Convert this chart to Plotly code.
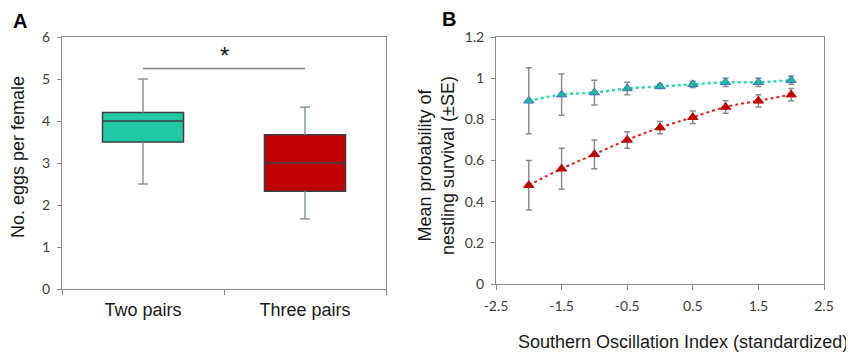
import plotly.graph_objects as go

# ---------------- Data ----------------
# Panel A: box plots of eggs per female
groups = ["Two pairs", "Three pairs"]
box_q1 = [3.5, 2.33]
box_median = [4.0, 3.0]
box_q3 = [4.2, 3.67]
box_lower = [2.5, 1.67]
box_upper = [5.0, 4.33]
box_colors = ["#20C9A2", "#C00000"]
sig_y = 5.25
sig_star_y = 5.57

# Panel B: survival vs SOI
soi = [-2.0, -1.5, -1.0, -0.5, 0.0, 0.5, 1.0, 1.5, 2.0]
surv_two = [0.89, 0.92, 0.93, 0.95, 0.96, 0.97, 0.98, 0.98, 0.99]
se_two = [0.16, 0.10, 0.06, 0.03, 0.01, 0.015, 0.02, 0.02, 0.02]
surv_three = [0.48, 0.56, 0.63, 0.70, 0.76, 0.81, 0.86, 0.89, 0.92]
se_three = [0.12, 0.10, 0.07, 0.04, 0.03, 0.03, 0.03, 0.03, 0.03]
xb_ticks = [-2.5, -1.5, -0.5, 0.5, 1.5, 2.5]
xb_ticktext = ["-2.5", "-1.5", "-0.5", "0.5", "1.5", "2.5"]
ya_ticks = [0, 1, 2, 3, 4, 5, 6]
yb_ticks = [0, 0.2, 0.4, 0.6, 0.8, 1.0, 1.2]
yb_ticktext = ["0", "0.2", "0.4", "0.6", "0.8", "1", "1.2"]

# page body has an 8px default margin; size the figure so it fills the window
OFF = 8
W, H = 854 - OFF, 354 - OFF
def px(x):
    return (x - OFF) / W
def py(y):
    return 1 - (y - OFF) / H

TICKFONT = dict(family="Lato, Liberation Sans, sans-serif", size=14, color="#404040")
TITLEFONT = dict(family="Liberation Sans, Arial, sans-serif", size=18, color="#1a1a1a")
AXCOL = "#8a8a8a"
WHISK = "#8a949e"

fig = go.Figure()

# ---- Panel A boxes ----
for i, g in enumerate(groups):
    fig.add_trace(go.Box(
        x=[g], q1=[box_q1[i]], median=[box_median[i]], q3=[box_q3[i]],
        lowerfence=[box_q1[i]], upperfence=[box_q3[i]],
        fillcolor=box_colors[i], line=dict(color="#3a4042", width=1.5),
        width=0.5, whiskerwidth=0, boxpoints=False, showlegend=False,
        xaxis="x", yaxis="y", hoverinfo="skip",
    ))

# whiskers
wx, wy = [], []
for i, g in enumerate(groups):
    wx += [g, g, None, g, g, None]
    wy += [box_q3[i], box_upper[i], None, box_q1[i], box_lower[i], None]
fig.add_trace(go.Scatter(x=wx, y=wy, mode="lines", line=dict(color=WHISK, width=1.5),
                         showlegend=False, xaxis="x", yaxis="y", hoverinfo="skip"))
cap_x = groups + groups
cap_y = box_upper + box_lower
fig.add_trace(go.Scatter(x=cap_x, y=cap_y, mode="markers",
                         marker=dict(symbol="line-ew", size=7, line=dict(color=WHISK, width=1.5)),
                         showlegend=False, xaxis="x", yaxis="y", hoverinfo="skip"))

# ---- Panel B lines ----
fig.add_trace(go.Scatter(
    x=soi, y=surv_two, mode="lines+markers",
    line=dict(color="#2DD9AE", width=2.5, dash="dot", shape="spline"),
    marker=dict(symbol="triangle-up", size=9, color="#1FB99A", line=dict(color="#4472C4", width=1)),
    error_y=dict(type="data", array=se_two, visible=True, color="#8c8c8c", thickness=1.5, width=3),
    showlegend=False, xaxis="x2", yaxis="y2",
))
fig.add_trace(go.Scatter(
    x=soi, y=surv_three, mode="lines+markers",
    line=dict(color="#E02020", width=2, dash="dot", shape="spline"),
    marker=dict(symbol="triangle-up", size=9, color="#C00000", line=dict(color="#C00000", width=1)),
    error_y=dict(type="data", array=se_three, visible=True, color="#8c8c8c", thickness=1.5, width=3),
    showlegend=False, xaxis="x2", yaxis="y2",
))

# significance bar
fig.add_shape(type="line", xref="x", yref="y", x0=groups[0], x1=groups[1], y0=sig_y, y1=sig_y,
              line=dict(color="#808080", width=1.5))

C = dict(xanchor="center", yanchor="middle", showarrow=False)
annotations = [
    dict(text="*", x=0.5, y=sig_star_y, xref="x", yref="y",
         font=dict(family="Liberation Sans, Arial", size=24, color="#1a1a1a"), **C),
    dict(text="<b>A</b>", x=px(20), y=py(21), xref="paper", yref="paper",
         font=dict(family="Liberation Sans, Arial", size=20, color="#000"), **C),
    dict(text="<b>B</b>", x=px(449), y=py(19), xref="paper", yref="paper",
         font=dict(family="Liberation Sans, Arial", size=20, color="#000"), **C),
    dict(text="No. eggs per female", x=px(18), y=py(157), xref="paper", yref="paper",
         textangle=-90, font=TITLEFONT, **C),
    dict(text="Mean probability of<br>nestling survival (±SE)", x=px(436), y=py(165),
         xref="paper", yref="paper", textangle=-90, font=TITLEFONT, **C),
    dict(text="Southern Oscillation Index (standardized)", x=px(683), y=py(342),
         xref="paper", yref="paper", font=TITLEFONT, **C),
]

common = dict(showline=True, linecolor=AXCOL, linewidth=1, mirror=True, showgrid=False,
              zeroline=False, automargin=False, tickcolor=AXCOL, ticks="outside")

fig.update_layout(
    width=W, height=H, margin=dict(l=0, r=0, t=0, b=0, autoexpand=False),
    paper_bgcolor="white", plot_bgcolor="white",
    boxmode="overlay", annotations=annotations,
    xaxis=dict(domain=[px(62), px(386)], type="category", range=[-0.5, 1.5],
               tickson="boundaries", ticklen=5, ticklabelstandoff=4,
               tickfont=dict(family="Liberation Sans, Arial", size=18, color="#1a1a1a"),
               anchor="y", **common),
    yaxis=dict(domain=[py(289), py(37)], range=[0, 6], tickvals=ya_ticks, ticklen=4,
               ticklabelstandoff=4, tickfont=TICKFONT, anchor="x", **common),
    xaxis2=dict(domain=[px(496), px(824)], range=[-2.5, 2.5], tickvals=xb_ticks,
                ticktext=xb_ticktext, ticklen=5, ticklabelstandoff=4, tickfont=TICKFONT,
                anchor="y2", **common),
    yaxis2=dict(domain=[py(284), py(37)], range=[0, 1.2], tickvals=yb_ticks,
                ticktext=yb_ticktext, ticklen=4, ticklabelstandoff=4, tickfont=TICKFONT,
                anchor="x2", **common),
)

fig.write_html("out.html")
